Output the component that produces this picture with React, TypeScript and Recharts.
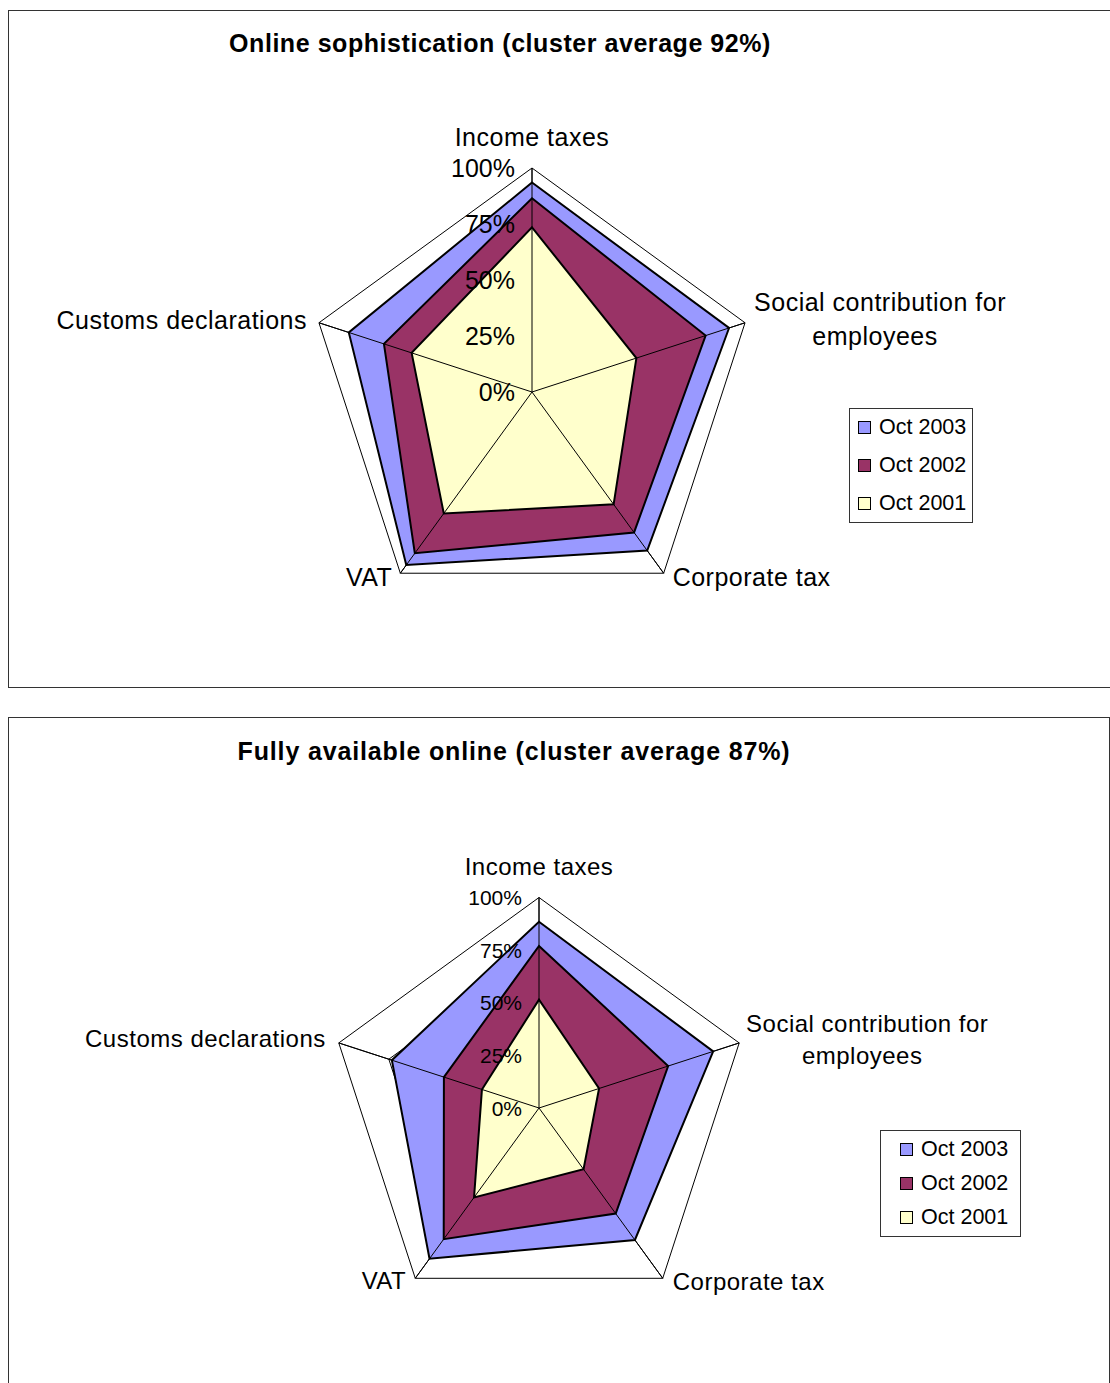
import { RadarChart, Radar, PolarGrid, PolarAngleAxis, PolarRadiusAxis, Legend } from 'recharts';

const axes = ['Income taxes', 'Social contribution for employees', 'Corporate tax', 'VAT', 'Customs declarations'];
const seriesNames = ['Oct 2003', 'Oct 2002', 'Oct 2001'];
const seriesColors = ['#9999FF', '#993366', '#FFFFCC'];
const radiusTicks = [0, 0.25, 0.5, 0.75, 1];

// Online sophistication
const soph2003 = [0.935, 0.925, 0.875, 0.955, 0.86];
const soph2002 = [0.865, 0.815, 0.775, 0.89, 0.695];
const soph2001 = [0.735, 0.49, 0.62, 0.67, 0.565];

// Fully available online
const full2003 = [0.885, 0.87, 0.775, 0.885, 0.735];
const full2002 = [0.77, 0.645, 0.62, 0.77, 0.475];
const full2001 = [0.515, 0.3, 0.36, 0.525, 0.285];

const FONT = '"Liberation Sans", Arial, sans-serif';
const RAD = Math.PI / 180;

const buildData = (a: number[], b: number[], c: number[]) =>
    axes.map((axis, i) => ({ axis, [seriesNames[0]]: a[i], [seriesNames[1]]: b[i], [seriesNames[2]]: c[i] }));

type LabelPos = { dx: number; dy: number; anchor: 'start' | 'middle' | 'end' };

const topLabels: Record<string, LabelPos> = {
    'Income taxes': { dx: 0, dy: -31, anchor: 'middle' },
    'Social contribution for employees': { dx: 135, dy: -21, anchor: 'middle' },
    'Corporate tax': { dx: 9, dy: 4, anchor: 'start' },
    'VAT': { dx: -8, dy: 4, anchor: 'end' },
    'Customs declarations': { dx: -12, dy: -3, anchor: 'end' },
};

const bottomLabels: Record<string, LabelPos> = {
    'Income taxes': { dx: 0, dy: -31, anchor: 'middle' },
    'Social contribution for employees': { dx: 128, dy: -20, anchor: 'middle' },
    'Corporate tax': { dx: 10, dy: 3, anchor: 'start' },
    'VAT': { dx: -9, dy: 2, anchor: 'end' },
    'Customs declarations': { dx: -13, dy: -4, anchor: 'end' },
};

// the tick lines are used as spokes (inner, full radius), so the label
// is placed from the outer vertex of each axis instead of the tick end
const AngleTick = (props: any) => {
    const { payload, labels, fontSize, lineGap, cx, cy, r } = props;
    const x = cx + r * Math.cos(-payload.coordinate * RAD);
    const y = cy + r * Math.sin(-payload.coordinate * RAD);
    const pos: LabelPos = labels[payload.value];
    if (payload.value === 'Social contribution for employees') {
        return (
            <text x={x + pos.dx} y={y + pos.dy} textAnchor="middle" dominantBaseline="central"
                fontSize={fontSize} fontFamily={FONT} fill="#000" letterSpacing={0.5}>
                <tspan x={x + pos.dx} dy={0}>Social contribution for</tspan>
                <tspan x={x + pos.dx - 5} dy={lineGap}>employees</tspan>
            </text>
        );
    }
    return (
        <text x={x + pos.dx} y={y + pos.dy} textAnchor={pos.anchor} dominantBaseline="central"
            fontSize={fontSize} fontFamily={FONT} fill="#000" letterSpacing={0.5}>
            {payload.value}
        </text>
    );
};

const RadiusTick = (props: any) => {
    const { x, y, payload, fontSize } = props;
    return (
        <text x={x - 17} y={y} textAnchor="end" dominantBaseline="central"
            fontSize={fontSize} fontFamily={FONT} fill="#000">
            {Math.round(payload.value * 100)}%
        </text>
    );
};

const LegendBox = (props: any) => {
    const { rowGap, fontSize, padLeft } = props;
    return (
        <div style={{
            border: '1px solid #333', background: '#fff', height: '100%', boxSizing: 'border-box',
            display: 'flex', flexDirection: 'column', justifyContent: 'center', gap: rowGap - fontSize * 1.15,
            paddingLeft: padLeft, fontFamily: FONT, fontSize,
        }}>
            {seriesNames.map((name, i) => (
                <div key={name} style={{ display: 'flex', alignItems: 'center', height: fontSize * 1.15, lineHeight: 1 }}>
                    <span style={{
                        display: 'inline-block', width: 11, height: 11, border: '1px solid #000',
                        background: seriesColors[i], marginRight: 8,
                    }} />
                    <span>{name}</span>
                </div>
            ))}
        </div>
    );
};

interface ChartProps {
    data: any[];
    cx: number;
    cy: number;
    r: number;
    labels: Record<string, LabelPos>;
    labelSize: number;
    lineGap: number;
    tickSize: number;
    legend: { left: number; top: number; width: number; height: number; rowGap: number; padLeft: number };
    height: number;
}

const Spider = (props: ChartProps) => {
    return (
        <RadarChart width={1110} height={props.height} data={props.data}
            cx={props.cx} cy={props.cy} outerRadius={props.r}
            margin={{ top: 0, right: 0, bottom: 0, left: 0 }}>
            <PolarGrid gridType="polygon" stroke="#000" strokeWidth={1} />
            {seriesNames.map((name, i) => (
                <Radar key={name} name={name} dataKey={name}
                    fill={seriesColors[i]} fillOpacity={1}
                    stroke="#000" strokeWidth={2} dot={false}
                    isAnimationActive={false} />
            ))}
            <PolarAngleAxis dataKey="axis" orientation="inner" tickSize={props.r}
                tickLine={{ stroke: '#000', strokeWidth: 1 }} axisLine={false}
                tick={(p: any) => <AngleTick {...p} cx={props.cx} cy={props.cy} r={props.r}
                    labels={props.labels} fontSize={props.labelSize} lineGap={props.lineGap} />} />
            <PolarRadiusAxis angle={90} domain={[0, 1]} type="number" ticks={radiusTicks}
                axisLine={false} tickLine={false}
                tick={(p: any) => <RadiusTick {...p} fontSize={props.tickSize} />} />
            <Legend
                wrapperStyle={{
                    left: props.legend.left, top: props.legend.top,
                    width: props.legend.width, height: props.legend.height,
                }}
                content={() => <LegendBox rowGap={props.legend.rowGap} fontSize={21.5} padLeft={props.legend.padLeft} />}
            />
        </RadarChart>
    );
};

const App = () => {
    return (
        <div style={{ position: 'fixed', left: 0, top: 0, width: 1110, height: 1383, overflow: 'hidden', background: '#fff' }}>
            <div style={{ position: 'absolute', left: 0, top: 0 }}>
                <Spider data={buildData(soph2003, soph2002, soph2001)}
                    cx={532} cy={392} r={224} labels={topLabels} labelSize={25} lineGap={34} tickSize={25}
                    legend={{ left: 849, top: 408, width: 124, height: 115, rowGap: 38, padLeft: 8 }}
                    height={700} />
            </div>
            <div style={{ position: 'absolute', left: 0, top: 700 }}>
                <Spider data={buildData(full2003, full2002, full2001)}
                    cx={539} cy={408} r={210.5} labels={bottomLabels} labelSize={24} lineGap={32} tickSize={21}
                    legend={{ left: 880, top: 430, width: 141, height: 107, rowGap: 34, padLeft: 19 }}
                    height={683} />
            </div>
            <div style={{
                position: 'absolute', left: 209, top: 29, width: 582, textAlign: 'center',
                fontFamily: FONT, fontWeight: 'bold', fontSize: 25, lineHeight: '28px', letterSpacing: 0.55,
            }}>Online sophistication (cluster average 92%)</div>
            <div style={{
                position: 'absolute', left: 214, top: 737, width: 600, textAlign: 'center',
                fontFamily: FONT, fontWeight: 'bold', fontSize: 25, lineHeight: '28px', letterSpacing: 0.85,
            }}>Fully available online (cluster average 87%)</div>
            <div style={{
                position: 'absolute', left: 8, top: 10, width: 1110, height: 678,
                border: '1px solid #333', boxSizing: 'border-box', pointerEvents: 'none',
            }} />
            <div style={{
                position: 'absolute', left: 8, top: 717, width: 1102, height: 700,
                border: '1px solid #333', boxSizing: 'border-box', pointerEvents: 'none',
            }} />
        </div>
    );
};

export default App;
